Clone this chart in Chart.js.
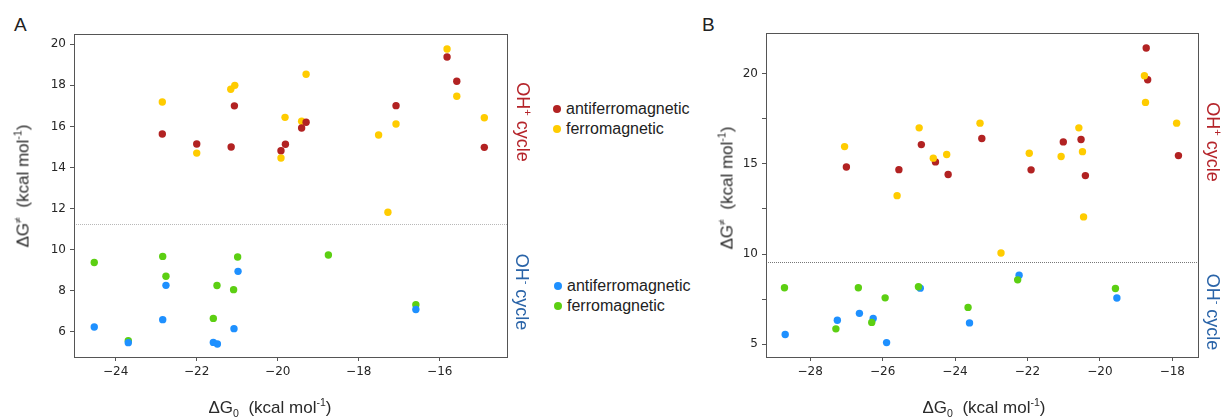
<!DOCTYPE html>
<html>
<head>
<meta charset="utf-8">
<script src="https://cdn.jsdelivr.net/npm/chart.js@4/dist/chart.umd.min.js"></script>
<style>
  body { margin: 0; background: #fff; width: 1223px; height: 417px; position: relative; overflow: hidden;
         font-family: "Liberation Sans", Arial, sans-serif; color: #222; }
  .panel { position: absolute; top: 0; height: 417px; }
  .tag { position: absolute; font-size: 19px; line-height: 1; }
  .title { position: absolute; white-space: nowrap; font-size: 17px; line-height: 1; color: #2a2a2a; transform: translate(-50%, -50%); }
  .title.rot { transform: translate(-50%, -50%) rotate(-90deg); }
  .cycle { position: absolute; white-space: nowrap; font-size: 18px; line-height: 1; transform: translate(-50%, -50%) rotate(90deg); }
  sup, sub { font-size: 0.62em; line-height: 0; }
  .legend { position: absolute; font-size: 16px; line-height: 20px; }
  .legend div { position: relative; padding-left: 10px; white-space: nowrap; }
  .legend span.dot { position: absolute; left: -3px; top: 6px; width: 8px; height: 8px; border-radius: 50%; }
</style>
</head>
<body>

<div class="tag" style="left:14px; top:15px;">A</div>
<div class="tag" style="left:702px; top:15px;">B</div>

<canvas id="chartA" class="panel" style="left:0px;" width="520" height="417"></canvas>
<canvas id="chartB" class="panel" style="left:700px;" width="510" height="417"></canvas>

<div class="title rot" style="left:23px; top:186px;">&Delta;G<sup>&ne;</sup>&nbsp;&nbsp;(kcal mol<sup>-1</sup>)</div>
<div class="title" style="left:270px; top:407px;">&Delta;G<sub>0</sub>&nbsp;&nbsp;(kcal mol<sup>-1</sup>)</div>
<div class="title rot" style="left:727px; top:188px;">&Delta;G<sup>&ne;</sup>&nbsp;&nbsp;(kcal mol<sup>-1</sup>)</div>
<div class="title" style="left:984px; top:407px;">&Delta;G<sub>0</sub>&nbsp;&nbsp;(kcal mol<sup>-1</sup>)</div>

<div class="cycle" style="left:523px; top:122px; color:#b5242a;">OH<sup>+</sup> cycle</div>
<div class="cycle" style="left:522px; top:292px; color:#2a64a8;">OH<sup>-</sup> cycle</div>
<div class="cycle" style="left:1213px; top:142px; color:#b5242a;">OH<sup>+</sup> cycle</div>
<div class="cycle" style="left:1213px; top:312px; color:#2a64a8;">OH<sup>-</sup> cycle</div>

<div class="legend" style="left:556px; top:99px;">
  <div><span class="dot" style="background:#b22222;"></span>antiferromagnetic</div>
  <div><span class="dot" style="background:#ffcc00;"></span>ferromagnetic</div>
</div>
<div class="legend" style="left:557px; top:276px;">
  <div><span class="dot" style="background:#1e90ff;"></span>antiferromagnetic</div>
  <div><span class="dot" style="background:#5ccf12;"></span>ferromagnetic</div>
</div>

<script>
// colours per spin state / cycle
const RED = '#b22222', YELLOW = '#ffcc00', BLUE = '#1e90ff', GREEN = '#5ccf12';

// ---- panel A ----
const aPlusAfmX = [-22.85, -22.0, -21.15, -21.07, -19.92, -19.81, -19.41, -19.30, -17.08, -15.82, -15.58, -14.9];
const aPlusAfmY = [15.63, 15.14, 15.0, 17.0, 14.82, 15.13, 15.92, 16.2, 17.01, 19.38, 18.2, 14.98];
const aPlusFmX = [-22.85, -22.0, -21.16, -21.06, -19.92, -19.82, -19.41, -19.30, -17.51, -17.08, -17.28, -15.82, -15.58, -14.9];
const aPlusFmY = [17.19, 14.7, 17.81, 18.0, 14.46, 16.44, 16.25, 18.54, 15.58, 16.12, 11.82, 19.77, 17.47, 16.42];
const aMinusAfmX = [-24.53, -23.69, -22.84, -22.76, -21.59, -21.49, -21.08, -20.98, -16.59];
const aMinusAfmY = [6.23, 5.47, 6.59, 8.26, 5.48, 5.4, 6.15, 8.94, 7.08];
const aMinusFmX = [-24.53, -22.84, -22.76, -21.5, -21.59, -21.09, -20.99, -18.75, -23.69, -16.59];
const aMinusFmY = [9.37, 9.67, 8.7, 8.25, 6.65, 8.05, 9.64, 9.74, 5.56, 7.32];
const aCutoff = 11.25;
const aXTicks = [-24, -22, -20, -18, -16];
const aYTicks = [6, 8, 10, 12, 14, 16, 18, 20];

// ---- panel B ----
const bPlusAfmX = [-27.0, -25.55, -24.93, -24.54, -24.19, -23.26, -21.9, -21.01, -20.52, -20.4, -18.72, -18.68, -17.83];
const bPlusAfmY = [14.83, 14.68, 16.07, 15.11, 14.41, 16.41, 14.67, 16.22, 16.35, 14.35, 21.43, 19.67, 15.46];
const bPlusFmX = [-27.05, -25.6, -24.99, -24.6, -24.23, -23.31, -22.73, -21.95, -21.07, -20.58, -20.48, -20.45, -18.77, -18.74, -17.88];
const bPlusFmY = [15.96, 13.24, 17.0, 15.32, 15.52, 17.26, 10.06, 15.59, 15.41, 17.0, 15.68, 12.06, 19.89, 18.41, 17.26];
const bMinusAfmX = [-28.69, -27.25, -26.64, -26.26, -25.89, -24.96, -23.6, -22.23, -19.53];
const bMinusAfmY = [5.54, 6.33, 6.71, 6.43, 5.09, 8.11, 6.18, 8.83, 7.56];
const bMinusFmX = [-28.71, -27.29, -26.67, -26.3, -25.93, -25.01, -23.64, -22.27, -19.57];
const bMinusFmY = [8.13, 5.85, 8.13, 6.21, 7.57, 8.19, 7.04, 8.57, 8.09];
const bCutoff = 9.56;
const bXTicks = [-28, -26, -24, -22, -20, -18];
const bYTicks = [5, 7.5, 10, 12.5, 15, 17.5, 20];

const pts = (xs, ys) => xs.map((x, i) => ({ x: x, y: ys[i] }));
const fmtNum = v => (v < 0 ? '\u2212' + Math.abs(v) : String(v));

// frame round the plot area + dotted line splitting the two cycles
const framePlugin = {
  id: 'frame',
  beforeDatasetsDraw(chart, args, opts) {
    const { ctx, chartArea: a, scales } = chart;
    const y = Math.round(scales.y.getPixelForValue(opts.cutoff)) + 0.5;
    ctx.save();
    ctx.strokeStyle = opts.cutColor;
    ctx.lineWidth = 1;
    ctx.setLineDash([1, 1]);
    ctx.beginPath();
    ctx.moveTo(a.left, y);
    ctx.lineTo(a.right, y);
    ctx.stroke();
    ctx.restore();
  },
  afterDraw(chart) {
    const { ctx, chartArea: a } = chart;
    ctx.save();
    ctx.strokeStyle = '#555';
    ctx.lineWidth = 1;
    ctx.strokeRect(Math.round(a.left) + 0.5, Math.round(a.top) + 0.5,
                   Math.round(a.right - a.left), Math.round(a.bottom - a.top));
    ctx.restore();
  }
};

function makeChart(id, cfg) {
  const tickFont = { family: '"DejaVu Sans", sans-serif', size: 12 };
  const gridOpts = { drawOnChartArea: false, drawTicks: true, tickLength: 4, color: '#555' };
  return new Chart(document.getElementById(id), {
    type: 'scatter',
    data: { datasets: cfg.datasets },
    options: {
      responsive: false,
      animation: false,
      layout: { autoPadding: false, padding: cfg.padding },
      plugins: { legend: { display: false }, tooltip: { enabled: false },
                 frame: { cutoff: cfg.cutoff, cutColor: cfg.cutColor } },
      scales: {
        x: {
          type: 'linear', min: cfg.xMin, max: cfg.xMax,
          afterBuildTicks: s => { s.ticks = cfg.xTicks.map(v => ({ value: v })); },
          afterFit: s => { s.height = 30; },
          grid: gridOpts,
          border: { display: true, color: '#555' },
          ticks: { font: tickFont, color: '#262626', padding: 4, autoSkip: false, maxRotation: 0,
                   callback: v => fmtNum(v) }
        },
        y: {
          type: 'linear', min: cfg.yMin, max: cfg.yMax,
          afterBuildTicks: s => { s.ticks = cfg.yTicks.map(v => ({ value: v })); },
          afterFit: s => { s.width = cfg.yWidth; },
          grid: gridOpts,
          border: { display: true, color: '#555' },
          ticks: { font: tickFont, color: '#262626', padding: 4, autoSkip: false,
                   callback: cfg.yLabel }
        }
      }
    },
    plugins: [framePlugin]
  });
}

const dot = (data, color) => ({ data: data, backgroundColor: color, borderWidth: 0, pointRadius: 3.7, pointHoverRadius: 3.7 });

// panel A: antiferromagnetic points sit on top
makeChart('chartA', {
  datasets: [
    dot(pts(aPlusAfmX, aPlusAfmY), RED),
    dot(pts(aPlusFmX, aPlusFmY), YELLOW),
    dot(pts(aMinusAfmX, aMinusAfmY), BLUE),
    dot(pts(aMinusFmX, aMinusFmY), GREEN)
  ],
  padding: { left: 0, top: 34, right: 13, bottom: 30 },
  yWidth: 74,
  xMin: -25.03, xMax: -14.34, yMin: 4.77, yMax: 20.5,
  xTicks: aXTicks, yTicks: aYTicks,
  yLabel: v => fmtNum(v),
  cutoff: aCutoff, cutColor: '#b8b8b8'
});

// panel B: ferromagnetic points sit on top, half-step ticks left unlabelled
makeChart('chartB', {
  datasets: [
    dot(pts(bPlusFmX, bPlusFmY), YELLOW),
    dot(pts(bPlusAfmX, bPlusAfmY), RED),
    dot(pts(bMinusFmX, bMinusFmY), GREEN),
    dot(pts(bMinusAfmX, bMinusAfmY), BLUE)
  ],
  padding: { left: 0, top: 33, right: 12, bottom: 30 },
  yWidth: 66,
  xMin: -29.22, xMax: -17.29, yMin: 4.29, yMax: 22.26,
  xTicks: bXTicks, yTicks: bYTicks,
  yLabel: v => (v % 5 === 0 ? fmtNum(v) : ''),
  cutoff: bCutoff, cutColor: '#777'
});
</script>
</body>
</html>
